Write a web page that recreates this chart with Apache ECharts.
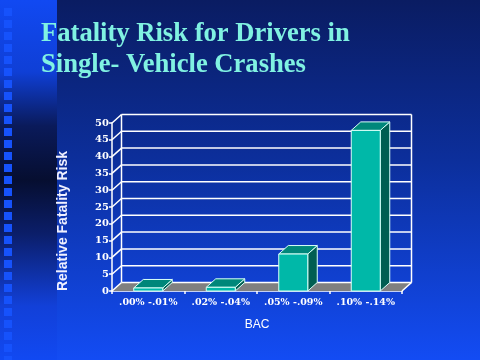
<!DOCTYPE html>
<html>
<head>
<meta charset="utf-8">
<script src="https://cdn.jsdelivr.net/npm/echarts@6/dist/echarts.min.js"></script>
<style>
html,body{margin:0;padding:0;background:#0b2070;}
#chart{width:480px;height:360px;}
</style>
</head>
<body>
<div id="chart"></div>
<script>
// ---- data ----
var categories = ['.00% -.01%', '.02% -.04%', '.05% -.09%', '.10% -.14%'];
var riskValues = [0.9, 1.1, 11, 47.8];
var yTicks = [0, 5, 10, 15, 20, 25, 30, 35, 40, 45, 50];
var titleLines = ['Fatality Risk for Drivers in', 'Single- Vehicle Crashes'];
var yName = 'Relative Fatality Risk';
var xName = 'BAC';

// ---- style constants ----
var DX = 9.5, DY = -8.5;
var WALL = '#ffffff';

var chart = echarts.init(document.getElementById('chart'), null, {renderer: 'canvas'});

// decorative squares on the left strip
var squares = [];
for (var k = 0; k < 30; k++) {
  squares.push({
    type: 'rect', silent: true, z: -9,
    shape: {x: 4, y: 8 + 12 * k, width: 8, height: 8},
    style: {fill: '#1652fc'}
  });
}

var graphics = [
  {type: 'rect', silent: true, z: -10, shape: {x: 0, y: 0, width: 480, height: 360},
   style: {fill: new echarts.graphic.LinearGradient(0, 0, 0, 1, [
     {offset: 0, color: '#0a1c62'},
     {offset: 0.45, color: '#0c2f9c'},
     {offset: 1, color: '#134cf4'}
   ])}},
  {type: 'rect', silent: true, z: -10, shape: {x: 0, y: 0, width: 57, height: 360},
   style: {fill: new echarts.graphic.LinearGradient(0, 0, 0, 1, [
     {offset: 0, color: '#1149f2'},
     {offset: 0.2, color: '#0f3fd6'},
     {offset: 0.35, color: '#0a1a5a'},
     {offset: 0.5, color: '#060e30'},
     {offset: 0.65, color: '#0b1e6a'},
     {offset: 0.85, color: '#1240d8'},
     {offset: 1, color: '#1149f2'}
   ])}},
  {type: 'text', z: 10, x: 63, y: 221, rotation: Math.PI / 2,
   style: {text: yName, fill: '#f0f0ff', font: 'bold 14px "Liberation Sans", Arial, sans-serif',
     textAlign: 'center', textVerticalAlign: 'middle'}}
].concat(squares);

var option = {
  animation: false,
  backgroundColor: 'transparent',
  graphic: graphics,
  title: {
    text: titleLines.join('\n'),
    left: 41, top: 19, padding: 0,
    textStyle: {
      fontFamily: '"Liberation Serif", "Times New Roman", serif',
      fontWeight: 'bold', fontSize: 26.6, lineHeight: 31,
      color: '#80f2e2',
      textShadowColor: '#000000', textShadowOffsetX: 2, textShadowOffsetY: 2, textShadowBlur: 0
    }
  },
  grid: {left: 112, right: 78, top: 123, bottom: 69},
  xAxis: {
    type: 'category', data: categories,
    name: xName, nameLocation: 'middle', nameGap: 28,
    nameTextStyle: {color: '#ffffff', fontFamily: '"Liberation Sans", Arial, sans-serif', fontSize: 12},
    axisLine: {show: true, lineStyle: {color: WALL, width: 1.5}},
    axisTick: {show: true, length: 3, lineStyle: {color: WALL, width: 1.5}},
    axisLabel: {interval: 0, color: '#ffffff', fontFamily: '"DejaVu Serif", serif',
      fontWeight: 'bold', fontSize: 9.5, margin: 7},
    splitLine: {show: false}
  },
  yAxis: {
    type: 'value', min: 0, max: 50, interval: 5,
    axisLine: {show: true, lineStyle: {color: WALL, width: 1.5}},
    axisTick: {show: true, length: 3, lineStyle: {color: WALL, width: 1.5}},
    axisLabel: {color: '#ffffff', fontFamily: '"DejaVu Serif", serif',
      fontWeight: 'bold', fontSize: 10, margin: 3},
    splitLine: {show: false}
  },
  series: [
    {
      type: 'custom', z: 1,
      data: [[0, 0]],
      renderItem: function (params, api) {
        var cs = params.coordSys;
        var x0 = cs.x, x1 = cs.x + cs.width, yb = cs.y + cs.height, yt = cs.y;
        var ch = [];
        ch.push({type: 'polygon', shape: {points: [[x0, yb], [x1, yb], [x1 + DX, yb + DY], [x0 + DX, yb + DY]]},
          style: {fill: '#808080', stroke: null}});
        var ls = {stroke: WALL, lineWidth: 1.5, fill: null};
        for (var i = 0; i < yTicks.length; i++) {
          var y = api.coord([0, yTicks[i]])[1];
          ch.push({type: 'line', shape: {x1: x0, y1: y, x2: x0 + DX, y2: y + DY}, style: ls});
          ch.push({type: 'line', shape: {x1: x0 + DX, y1: y + DY, x2: x1 + DX, y2: y + DY}, style: ls});
        }
        ch.push({type: 'line', shape: {x1: x0 + DX, y1: yt + DY, x2: x0 + DX, y2: yb + DY}, style: ls});
        ch.push({type: 'line', shape: {x1: x1 + DX, y1: yt + DY, x2: x1 + DX, y2: yb + DY}, style: ls});
        ch.push({type: 'line', shape: {x1: x1 + DX, y1: yb + DY, x2: x1, y2: yb}, style: ls});
        return {type: 'group', children: ch};
      }
    },
    {
      type: 'custom', z: 3,
      data: riskValues.map(function (v, i) { return [i, v]; }),
      renderItem: function (params, api) {
        var i = api.value(0), v = api.value(1);
        var c0 = api.coord([i, 0]), c1 = api.coord([i, v]);
        var w = api.size([1, 0])[0] * 0.4;
        var L = c0[0] - w / 2, R = L + w, T = c1[1], B = c0[1];
        var st = {stroke: '#d8fff8', lineWidth: 1};
        return {type: 'group', children: [
          {type: 'polygon', shape: {points: [[R, T], [R + DX, T + DY], [R + DX, B + DY], [R, B]]},
            style: Object.assign({fill: '#005e52'}, st)},
          {type: 'polygon', shape: {points: [[L, T], [R, T], [R + DX, T + DY], [L + DX, T + DY]]},
            style: Object.assign({fill: '#00877a'}, st)},
          {type: 'rect', shape: {x: L, y: T, width: w, height: B - T},
            style: Object.assign({fill: '#00b8a8'}, st)}
        ]};
      }
    }
  ]
};
chart.setOption(option);
</script>
</body>
</html>
